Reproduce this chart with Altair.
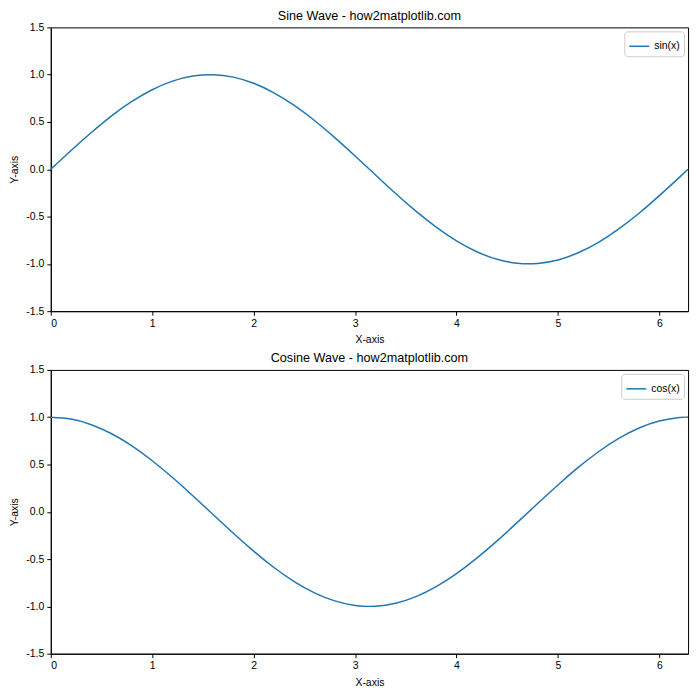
import altair as alt
import pandas as pd

x_vals = [0.0, 0.2, 0.4, 0.6, 0.8, 1.0, 1.2, 1.4, 1.6, 1.8, 2.0, 2.2, 2.4, 2.6, 2.8, 3.0,
          3.2, 3.4, 3.6, 3.8, 4.0, 4.2, 4.4, 4.6, 4.8, 5.0, 5.2, 5.4, 5.6, 5.8, 6.0, 6.2, 6.283]
sin_vals = [0.0, 0.199, 0.389, 0.565, 0.717, 0.841, 0.932, 0.985, 0.9996, 0.974, 0.909, 0.808,
            0.675, 0.516, 0.335, 0.141, -0.058, -0.256, -0.443, -0.612, -0.757, -0.872, -0.952,
            -0.994, -0.996, -0.959, -0.883, -0.773, -0.631, -0.465, -0.279, -0.083, 0.0]
cos_vals = [1.0, 0.980, 0.921, 0.825, 0.697, 0.540, 0.362, 0.170, -0.029, -0.227, -0.416, -0.589,
            -0.737, -0.857, -0.942, -0.990, -0.998, -0.967, -0.897, -0.791, -0.654, -0.490, -0.307,
            -0.112, 0.087, 0.284, 0.469, 0.635, 0.776, 0.886, 0.960, 0.997, 1.0]
x_ticks = [0, 1, 2, 3, 4, 5, 6]
y_ticks = [-1.5, -1.0, -0.5, 0.0, 0.5, 1.0, 1.5]

FONT = "Liberation Sans"
BLUE = "#1f77b4"


def panel(values, name, title):
    df = pd.DataFrame({"x": x_vals, "y": values, "s": [name] * len(x_vals)})
    return alt.Chart(df, title=alt.TitleParams(title, fontSize=12.7, fontWeight="normal",
                                                font=FONT, offset=0)).mark_line(
        strokeWidth=1.5, interpolate="natural"
    ).encode(
        x=alt.X("x:Q", scale=alt.Scale(domain=[0, 6.283], nice=False, zero=False),
                axis=alt.Axis(values=x_ticks, title="X-axis", format="d")),
        y=alt.Y("y:Q", scale=alt.Scale(domain=[-1.5, 1.5], nice=False),
                axis=alt.Axis(values=y_ticks, title="Y-axis",
                              labelExpr="replace(format(datum.value, '.1f'), '\u2212', '-')")),
        color=alt.Color("s:N", scale=alt.Scale(domain=[name], range=[BLUE]),
                        legend=alt.Legend(title=None, orient="top-right", offset=4,
                                          strokeColor="#cccccc", fillColor="white",
                                          padding=4, cornerRadius=3, symbolType="stroke",
                                          symbolStrokeWidth=1.5, symbolSize=400,
                                          labelFontSize=10.5, labelFont=FONT)),
    ).properties(width=640, height=285)


top = panel(sin_vals, "sin(x)", "Sine Wave - how2matplotlib.com")
bottom = panel(cos_vals, "cos(x)", "Cosine Wave - how2matplotlib.com")

chart = alt.vconcat(top, bottom, spacing=59, bounds="flush").resolve_scale(color="independent").properties(
    padding={"left": 9, "top": 7, "right": 8, "bottom": 8},
).configure_view(stroke="black", strokeWidth=1).configure_axis(
    grid=False, domainColor="black", tickColor="black", tickSize=4,
    labelFont=FONT, titleFont=FONT, labelFontSize=10.5, titleFontSize=10.5,
    titleFontWeight="normal", labelColor="black", titleColor="black",
).configure_axisX(titlePadding=6, labelPadding=3).configure_axisY(titlePadding=6, labelPadding=3)

chart.save("out.html", embed_options={"renderer": "svg", "actions": False})
